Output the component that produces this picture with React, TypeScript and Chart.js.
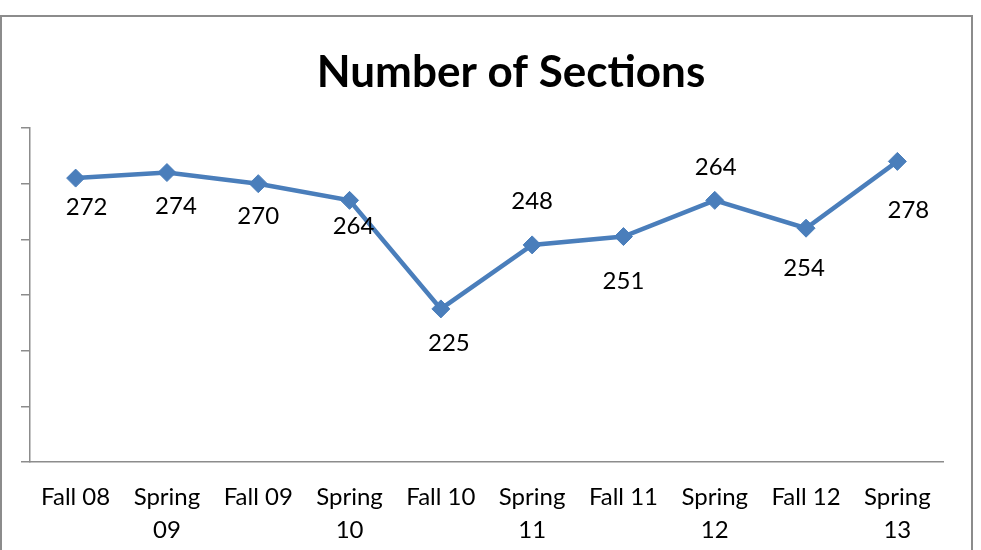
import React, { useEffect, useRef } from "react";
import { Chart, registerables } from "chart.js";

Chart.register(...registerables);

const categories: (string | string[])[] = [
  "Fall 08",
  ["Spring", "09"],
  "Fall 09",
  ["Spring", "10"],
  "Fall 10",
  ["Spring", "11"],
  "Fall 11",
  ["Spring", "12"],
  "Fall 12",
  ["Spring", "13"],
];
const sections = [272, 274, 270, 264, 225, 248, 251, 264, 254, 278];
// label offsets (px) relative to each point, mimicking Excel's auto placement
const labelDx = [11, 9, 0, 4, 8, 0, 0, 1, -2, 11];
const labelDy = [29, 34, 33, 26, 34, -44, 45, -33, 40, 49];

const TITLE = "Number of Sections";
const FONT = "Lato, 'Open Sans', sans-serif";
const W = 981;
const H = 550;

const decorPlugin = {
  id: "decor",
  beforeDraw(chart: any) {
    const ctx = chart.ctx;
    ctx.save();
    ctx.strokeStyle = "#8c8c8c";
    ctx.lineWidth = 2;
    ctx.strokeRect(1, 16, 971, 600);
    ctx.fillStyle = "#000";
    ctx.font = `bold 44px ${FONT}`;
    ctx.textAlign = "center";
    ctx.textBaseline = "middle";
    ctx.fillText(TITLE, 511, 73);
    ctx.restore();
  },
  afterDatasetsDraw(chart: any) {
    const ctx = chart.ctx;
    const meta = chart.getDatasetMeta(0);
    ctx.save();
    ctx.fillStyle = "#000";
    ctx.font = `24px ${FONT}`;
    ctx.textAlign = "center";
    ctx.textBaseline = "middle";
    meta.data.forEach((pt: any, i: number) => {
      ctx.fillText(String(sections[i]), pt.x + labelDx[i], pt.y + labelDy[i]);
    });
    ctx.restore();
  },
};

export default function App() {
  const ref = useRef<HTMLCanvasElement>(null);
  useEffect(() => {
    if (!ref.current) return;
    const chart = new Chart(ref.current, {
      type: "line",
      data: {
        labels: categories as any,
        datasets: [
          {
            data: sections,
            borderColor: "#4A7EBB",
            backgroundColor: "#4A7EBB",
            borderWidth: 4.5,
            pointStyle: "rectRot",
            pointRadius: 9,
            pointBorderWidth: 1,
            pointBackgroundColor: "#4A7EBB",
            pointBorderColor: "#4A7EBB",
            tension: 0,
          },
        ],
      },
      options: {
        responsive: false,
        animation: false,
        layout: { padding: { left: 21, top: 128, right: 38, bottom: 0 } },
        plugins: {
          legend: { display: false },
          title: { display: false },
          tooltip: { enabled: false },
        },
        scales: {
          x: {
            offset: true,
            grid: { display: false, drawTicks: false },
            border: { display: true, color: "#8c8c8c", width: 1.5 },
            ticks: {
              color: "#000",
              font: { family: FONT, size: 24, lineHeight: 1.375 },
              padding: 19,
              maxRotation: 0,
              autoSkip: false,
            },
            afterFit(scale: any) {
              scale.height = 88;
            },
          },
          y: {
            min: 170,
            max: 290,
            ticks: { display: false, stepSize: 20 },
            grid: {
              drawOnChartArea: false,
              drawTicks: true,
              tickLength: 9,
              color: "#8c8c8c",
              lineWidth: 1.5,
            },
            border: { display: true, color: "#8c8c8c", width: 1.5 },
          },
        },
      },
      plugins: [decorPlugin],
    });
    return () => chart.destroy();
  }, []);
  return (
    <div style={{ position: "fixed", left: 0, top: 0, width: W, height: H, background: "#fff" }}>
      <canvas ref={ref} width={W} height={H} style={{ width: W, height: H }} />
    </div>
  );
}
